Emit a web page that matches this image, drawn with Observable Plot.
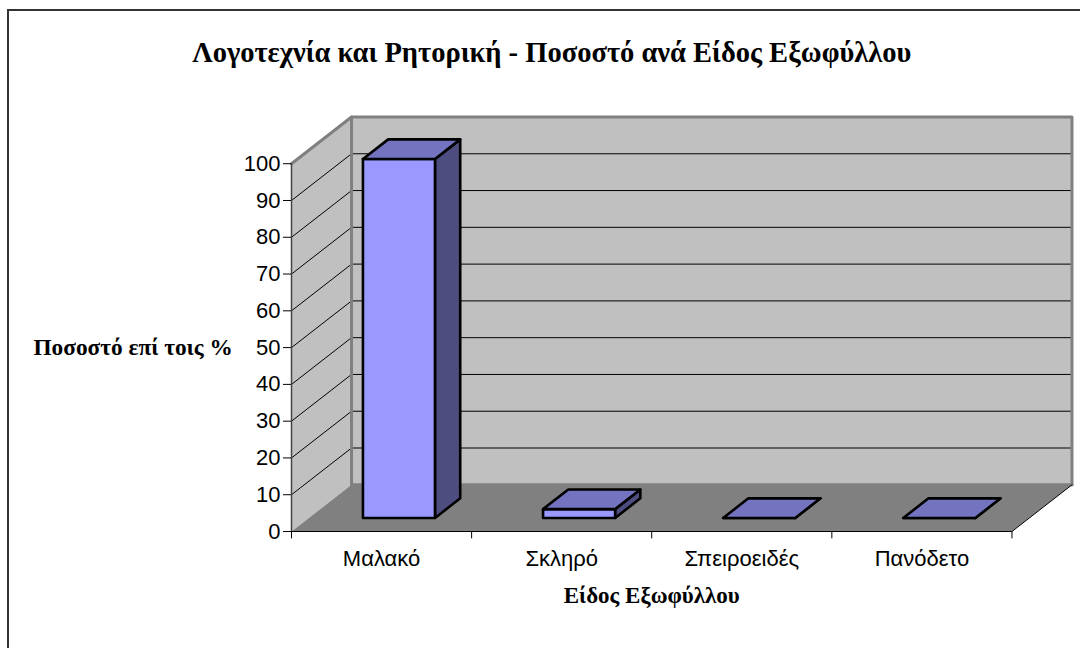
<!DOCTYPE html>
<html><head><meta charset="utf-8">
<script src="https://cdn.jsdelivr.net/npm/d3@7"></script>
<script src="https://cdn.jsdelivr.net/npm/@observablehq/plot@0.6"></script>
<style>
html,body{margin:0;padding:0;background:#fff;width:1080px;height:648px;overflow:hidden}
#chart{position:absolute;left:0;top:0}
#chart svg{display:block}
#box{position:absolute;left:7px;top:9px;width:1090px;height:660px;border:2px solid #333;box-sizing:border-box}
</style></head><body>
<div id="box"></div>
<div id="chart"></div>
<script>
const categories = ["Μαλακό","Σκληρό","Σπειροειδές","Πανόδετο"];
const values = [97.6,2.4,0,0];
const yTicks = [0,10,20,30,40,50,60,70,80,90,100];
const titleText = "Λογοτεχνία και Ρητορική - Ποσοστό ανά Είδος Εξωφύλλου";
const xTitle = "Είδος Εξωφύλλου";
const yTitle = "Ποσοστό επί τοις %";

// oblique projection in data units: depth d in 0..1
const depthX = 1/3, depthY = 12.7;
const P = (u,v,d=0) => ({x:u+d*depthX, y:v+d*depthY});
const n = categories.length;
const poly = (id,pts) => pts.map(p=>({id,...P(...p)}));
const closed = a => [...a,a[0]];

const wallBack = poly("b",[[0,0,1],[n,0,1],[n,100,1],[0,100,1]]);
const wallSide = poly("s",[[0,0,0],[0,0,1],[0,100,1],[0,100,0]]);
const floor = poly("f",[[0,0,0],[n,0,0],[n,0,1],[0,0,1]]);

const inner = yTicks.filter(t=>t>0);
const backGrid = inner.filter(t=>t<100).flatMap(t=>poly(t,[[0,t,1],[n,t,1]]));
const sideGrid = inner.filter(t=>t<100).flatMap(t=>poly(t,[[0,t,0],[0,t,1]]));
const rim = [
  ...poly("r",[[0,100,0],[0,100,1],[n,100,1],[n,0,1]]),
  ...poly("e",[[0,100,1],[0,0,1]]),
  ...poly("g",[[0,0,1],[n,0,1]])
];
const frontRight = poly("h",[[n,0,0],[n,0,1]]);

const z0=.29,z1=.71,hw=.2;
const faces = (i,v)=>{
  const c=i+.5, a=c-hw, b=c+hw;
  return {
    front: poly(i,[[a,0,z0],[b,0,z0],[b,v,z0],[a,v,z0]]),
    top: poly(i,[[a,v,z0],[b,v,z0],[b,v,z1],[a,v,z1]]),
    side: poly(i,[[b,0,z0],[b,0,z1],[b,v,z1],[b,v,z0]])
  };
};
const bars = values.map((v,i)=>faces(i,v));
const fillArea = (data,fill)=>Plot.line(data,{x:"x",y:"y",z:"id",fill,stroke:"none"});
const barFace = (k,fill)=>Plot.line(bars.flatMap(f=>closed(f[k])),{x:"x",y:"y",z:"id",fill,stroke:"#000",strokeWidth:2.6,strokeLinejoin:"round"});
const sans = "Liberation Sans", serif = "Liberation Serif";

const plot = Plot.plot({
  width:1080,height:648,
  marginLeft:291,marginRight:8.5,marginTop:116.5,marginBottom:117,
  x:{type:"linear",domain:[0,n+depthX],axis:null},
  y:{type:"linear",domain:[0,100+depthY],axis:null},
  style:{background:"transparent"},
  marks:[
    fillArea(wallBack,"#c0c0c0"),
    fillArea(wallSide,"#c0c0c0"),
    fillArea(floor,"#808080"),
    Plot.line(backGrid,{x:"x",y:"y",z:"id",stroke:"#000",strokeWidth:1}),
    Plot.line(sideGrid,{x:"x",y:"y",z:"id",stroke:"#000",strokeWidth:1}),
    Plot.line(rim,{x:"x",y:"y",z:"id",stroke:"#808080",strokeWidth:3}),
    Plot.line(frontRight,{x:"x",y:"y",z:"id",stroke:"#000",strokeWidth:1}),
    barFace("side","#4d4d80"),
    barFace("front","#9999ff"),
    barFace("top","#7373bf"),
    Plot.ruleY([0],{x1:0,x2:n,stroke:"#000",strokeWidth:1}),
    Plot.ruleX([0],{y1:0,y2:100,stroke:"#444",strokeWidth:1.5}),
    Plot.axisY(yTicks,{ticks:yTicks,anchor:"left",tickSize:8,tickPadding:3,label:null,fontSize:22,fontFamily:sans,color:"#000"}),
    Plot.ruleX(d3.range(n+1),{y1:0,y2:-2,stroke:"#000"}),
    Plot.text(categories,{x:(d,i)=>i+.5,y:0,dy:27,fontSize:22,fontFamily:sans,fill:"#000"}),
    Plot.text([xTitle],{x:n/2,y:0,dy:64,fontSize:23,fontWeight:"bold",fontFamily:serif,fill:"#000"}),
    Plot.text([titleText],{frameAnchor:"top",dy:-75,dx:-130,fontSize:28.5,fontWeight:"bold",fontFamily:serif,fill:"#000"}),
    Plot.text([yTitle],{frameAnchor:"left",dx:-258,dy:23,fontSize:23.3,fontWeight:"bold",fontFamily:serif,fill:"#000"})
  ]
});
document.getElementById("chart").append(plot);
</script>
</body></html>
